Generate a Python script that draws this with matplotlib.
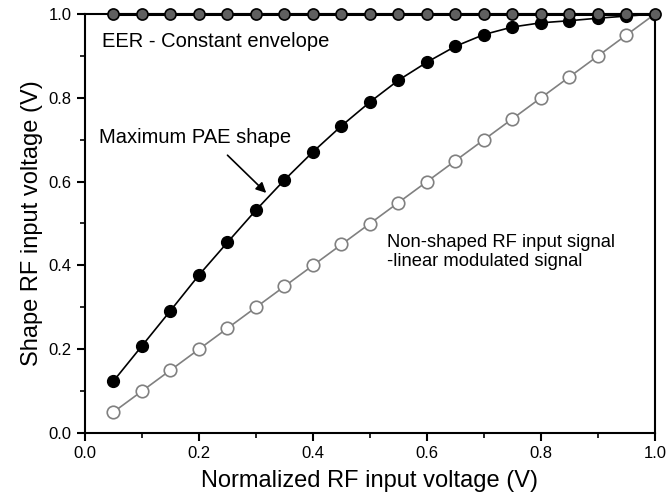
import numpy as np
import matplotlib.pyplot as plt
from matplotlib.ticker import MultipleLocator

plt.rcParams["font.family"] = ["Liberation Sans", "DejaVu Sans"]

x_vals = [0.05, 0.10, 0.15, 0.20, 0.25, 0.30, 0.35, 0.40, 0.45, 0.50,
          0.55, 0.60, 0.65, 0.70, 0.75, 0.80, 0.85, 0.90, 0.95, 1.00]
eer_vals = [1.0] * 20
pae_vals = [0.124, 0.208, 0.292, 0.377, 0.455, 0.532, 0.604, 0.671, 0.733, 0.790,
            0.842, 0.885, 0.923, 0.951, 0.969, 0.979, 0.984, 0.990, 0.995, 1.000]
linear_vals = [0.05, 0.10, 0.15, 0.20, 0.25, 0.30, 0.35, 0.40, 0.45, 0.50,
               0.55, 0.60, 0.65, 0.70, 0.75, 0.80, 0.85, 0.90, 0.95, 1.00]


def main():
    fig = plt.figure(figsize=(6.67, 5), dpi=100)
    ax = fig.add_axes([0.1274, 0.134, 0.8546, 0.838])

    ax.plot(x_vals, linear_vals, color="#808080", linewidth=1.2, marker="o",
            markersize=9, markerfacecolor="white", markeredgecolor="#808080",
            markeredgewidth=1.2, zorder=2)
    ax.plot(x_vals, pae_vals, color="black", linewidth=1.2, marker="o",
            markersize=8.5, markerfacecolor="black", markeredgecolor="black", zorder=3)
    ax.plot(x_vals, eer_vals, color="black", linewidth=2.2, marker="o",
            markersize=8, markerfacecolor="#606060", markeredgecolor="black",
            markeredgewidth=1.2, zorder=4, clip_on=False)

    ax.set_xlim(0, 1.0)
    ax.set_ylim(0, 1.0)
    ax.xaxis.set_major_locator(MultipleLocator(0.2))
    ax.xaxis.set_minor_locator(MultipleLocator(0.1))
    ax.yaxis.set_major_locator(MultipleLocator(0.2))
    ax.yaxis.set_minor_locator(MultipleLocator(0.1))
    ax.xaxis.set_major_formatter(plt.FormatStrFormatter("%.1f"))
    ax.yaxis.set_major_formatter(plt.FormatStrFormatter("%.1f"))
    ax.tick_params(which="major", direction="out", length=6, width=1.5, labelsize=12)
    ax.tick_params(which="minor", direction="out", length=3.5, width=1.2)
    for s in ax.spines.values():
        s.set_linewidth(1.5)

    ax.set_xlabel("Normalized RF input voltage (V)", fontsize=17, labelpad=6)
    ax.set_ylabel("Shape RF input voltage (V)", fontsize=17, labelpad=4)

    ax.text(0.03, 0.935, "EER - Constant envelope", fontsize=14.5, va="center")
    ax.text(0.025, 0.705, "Maximum PAE shape", fontsize=14.5, va="center")
    ax.annotate("", xy=(0.318, 0.573), xytext=(0.25, 0.663),
                arrowprops=dict(arrowstyle="-|>", color="black", lw=1.2,
                                mutation_scale=15, shrinkA=0, shrinkB=0))
    ax.text(0.53, 0.432, "Non-shaped RF input signal\n-linear modulated signal",
            fontsize=13.2, va="center", linespacing=1.1)

    plt.savefig("out.png", dpi=100)


if __name__ == "__main__":
    main()
